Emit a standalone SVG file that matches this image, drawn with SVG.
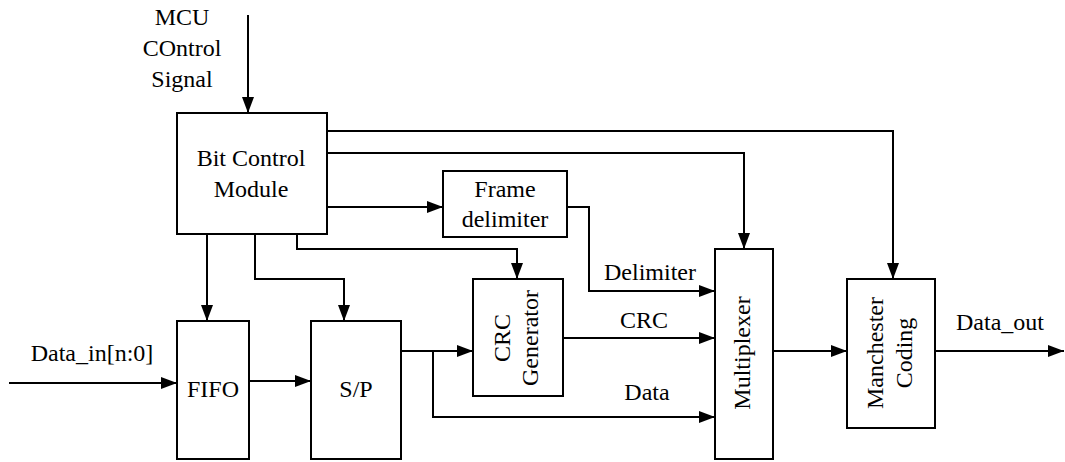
<svg xmlns="http://www.w3.org/2000/svg" width="1065" height="462" viewBox="0 0 1065 462">
  <style>
    .box { fill: #fff; stroke: #000; stroke-width: 2; }
    .wire { fill: none; stroke: #000; stroke-width: 2; }
    .t { font-family: "Liberation Serif", "Times New Roman", Times, Tinos, "Noto Serif", "DejaVu Serif", FreeSerif, serif; font-size: 24px; fill: #000; }
  </style>
  <defs>
    <marker id="arrow" markerUnits="userSpaceOnUse" markerWidth="16" markerHeight="12" refX="16" refY="6" orient="auto">
      <path d="M0,0 L16,6 L0,12 z" fill="#000"/>
    </marker>
  </defs>
  <rect width="1065" height="462" fill="#fff"/>

  <!-- signal wires -->
  <g id="connectors" class="wire" marker-end="url(#arrow)">
    <path d="M248,15 V113"/>
    <path d="M327,131 H893 V279"/>
    <path d="M327,153 H744 V249"/>
    <path d="M327,207 H443"/>
    <path d="M567,207 H589 V291 H715"/>
    <path d="M297,234 V249 H517 V279"/>
    <path d="M207,234 V321"/>
    <path d="M255,234 V279 H344 V321"/>
    <path d="M9,383 H177"/>
    <path d="M249,381 H311"/>
    <path d="M401,351 H473"/>
    <path d="M433,351 V417 H715"/>
    <path d="M563,338 H715"/>
    <path d="M773,351 H847"/>
    <path d="M935,351 H1064"/>
  </g>

  <g class="t" text-anchor="middle">
    <!-- wire labels -->
    <g id="labels">
      <text x="182" y="25">MCU</text>
      <text x="182" y="56">COntrol</text>
      <text x="182" y="87">Signal</text>
      <text x="92" y="361">Data_in[n:0]</text>
      <text x="650" y="280">Delimiter</text>
      <text x="644" y="328">CRC</text>
      <text x="647" y="400">Data</text>
      <text x="1000" y="330">Data_out</text>
    </g>

    <g id="bit-control">
      <rect class="box" x="177" y="113" width="150" height="121"/>
      <text x="251" y="166">Bit Control</text>
      <text x="251" y="197">Module</text>
    </g>

    <g id="frame-delimiter">
      <rect class="box" x="443" y="171" width="124" height="66"/>
      <text x="505" y="197">Frame</text>
      <text x="505" y="227">delimiter</text>
    </g>

    <g id="fifo">
      <rect class="box" x="177" y="321" width="72" height="138"/>
      <text x="213" y="397">FIFO</text>
    </g>

    <g id="sp">
      <rect class="box" x="311" y="321" width="90" height="138"/>
      <text x="356" y="397">S/P</text>
    </g>

    <g id="crc-generator">
      <rect class="box" x="473" y="279" width="90" height="117"/>
      <text transform="translate(510,338) rotate(-90)">CRC</text>
      <text transform="translate(538,338) rotate(-90)">Generator</text>
    </g>

    <g id="multiplexer">
      <rect class="box" x="715" y="249" width="58" height="210"/>
      <text transform="translate(750,353) rotate(-90)">Multiplexer</text>
    </g>

    <g id="manchester">
      <rect class="box" x="847" y="279" width="88" height="149"/>
      <text transform="translate(883,353) rotate(-90)">Manchester</text>
      <text transform="translate(912,353) rotate(-90)">Coding</text>
    </g>
  </g>
</svg>
